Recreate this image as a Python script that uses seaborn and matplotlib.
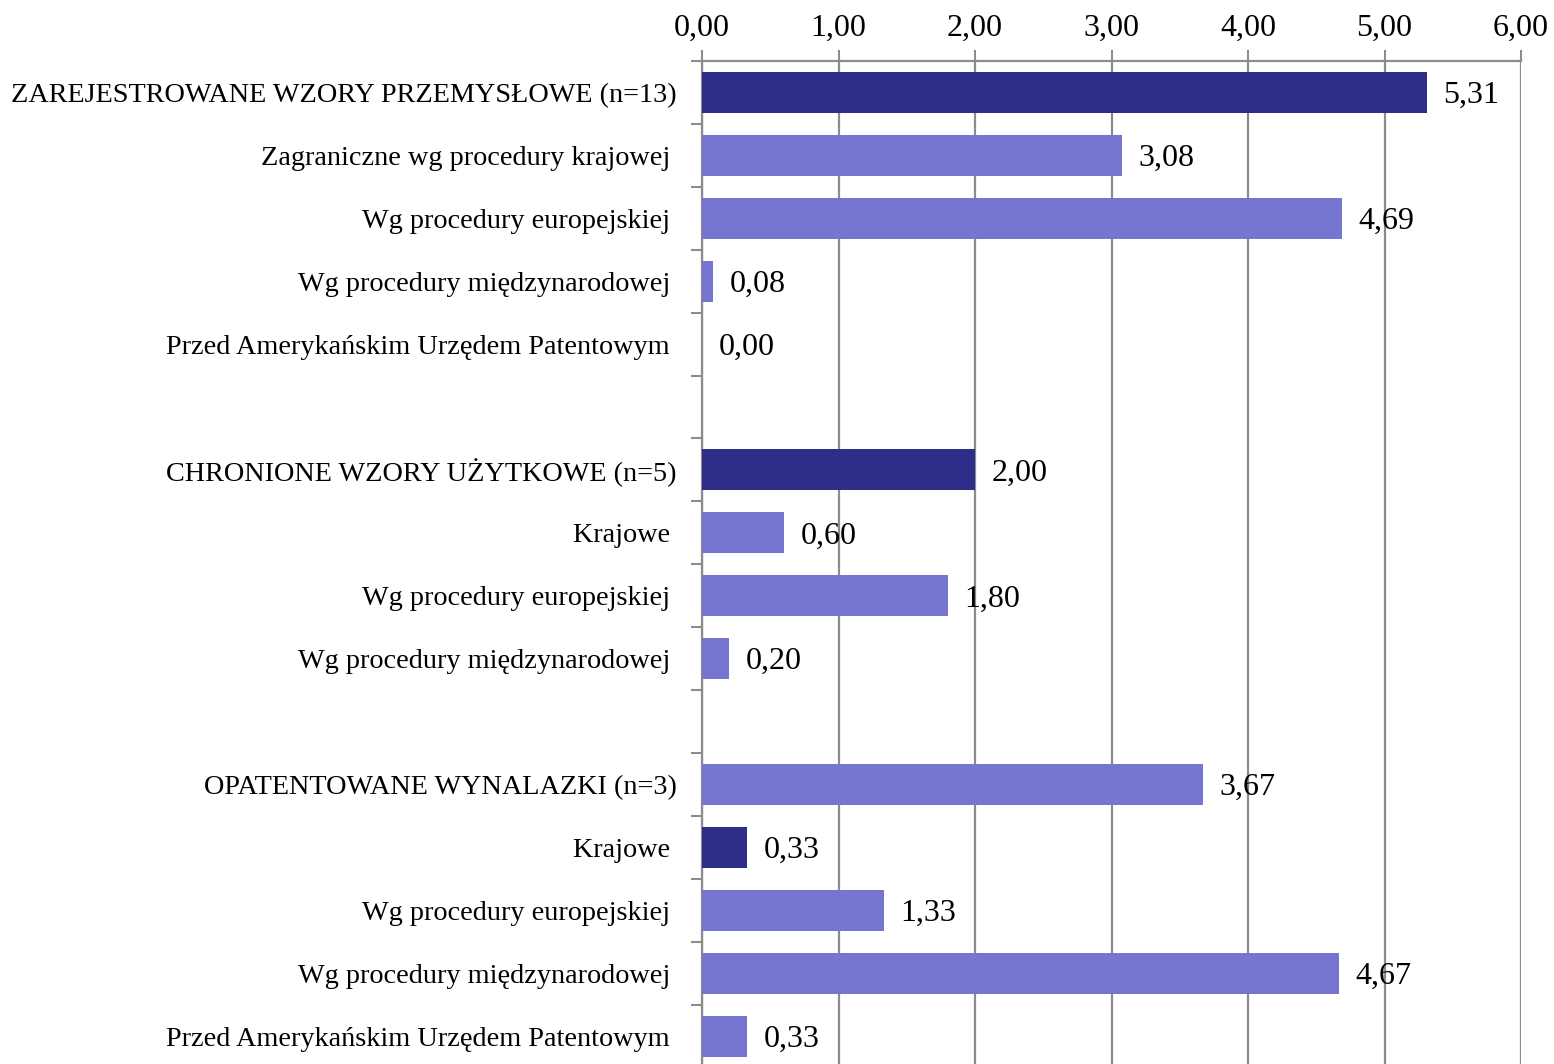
import numpy as np
import pandas as pd
import matplotlib
matplotlib.use("Agg")
import matplotlib.pyplot as plt
import seaborn as sns
from matplotlib.ticker import FixedLocator, FuncFormatter

labels = [
    "ZAREJESTROWANE WZORY PRZEMYSŁOWE (n=13)",
    "Zagraniczne wg procedury krajowej",
    "Wg procedury europejskiej",
    "Wg procedury międzynarodowej",
    "Przed Amerykańskim Urzędem Patentowym",
    "",
    "CHRONIONE WZORY UŻYTKOWE (n=5)",
    "Krajowe",
    "Wg procedury europejskiej",
    "Wg procedury międzynarodowej",
    "",
    "OPATENTOWANE WYNALAZKI (n=3)",
    "Krajowe",
    "Wg procedury europejskiej",
    "Wg procedury międzynarodowej",
    "Przed Amerykańskim Urzędem Patentowym",
]
values = [5.31, 3.08, 4.69, 0.08, 0.00, None,
          2.00, 0.60, 1.80, 0.20, None,
          3.67, 0.33, 1.33, 4.67, 0.33]
shade = ["dark", "light", "light", "light", "light", None,
         "dark", "light", "light", "light", None,
         "light", "dark", "light", "light", "light"]
is_main = [True, False, False, False, False, False,
           True, False, False, False, False,
           True, False, False, False, False]

ids = [f"r{i}" for i in range(len(labels))]
df = pd.DataFrame({"id": ids, "value": values, "shade": shade}).dropna()

sns.set_theme(style="white")
plt.rcParams["font.family"] = ["Liberation Serif", "DejaVu Serif"]
plt.rcParams["text.color"] = "black"
plt.rcParams["xtick.color"] = "black"
plt.rcParams["ytick.color"] = "black"

fig = plt.figure(figsize=(15.54, 10.64), dpi=100)
ax = fig.add_axes([702/1554, -0.0034, (1521-702)/1554, 1 - 61/1064 + 0.0034])

palette = {"dark": "#2E2E8A", "light": "#7676D2"}
sns.barplot(data=df, x="value", y="id", hue="shade", order=ids, palette=palette,
            dodge=False, legend=False, width=0.65, orient="h", ax=ax,
            saturation=1, edgecolor="none")

gray = "#8C8C8C"
ax.set_xlim(0, 6)
ax.set_ylim(len(labels) - 0.5, -0.5)
ax.xaxis.tick_top()
ax.xaxis.set_label_position("top")
ax.set_xticks(np.arange(0, 7, 1))
ax.xaxis.set_major_formatter(FuncFormatter(lambda v, p: f"{v:.2f}".replace(".", ",")))
ax.tick_params(axis="x", which="major", direction="out", length=8, width=1.5,
               color=gray, labelcolor="black", labelsize=23, pad=5)
ax.grid(axis="x", color=gray, linewidth=1.6)
ax.set_axisbelow(False)
for b in ax.patches:
    b.set_zorder(3)

ax.set_yticks(range(len(labels)))
ax.set_yticklabels([l if m else (l + " ") if l else "" for l, m in zip(labels, is_main)])
ax.yaxis.set_minor_locator(FixedLocator(np.arange(-0.5, len(labels), 1)))
ax.tick_params(axis="y", which="major", length=0, labelsize=20.3, pad=18,
               labelcolor="black")
ax.tick_params(axis="y", which="minor", direction="out", length=8, width=1.5,
               color=gray, left=True)
ax.set_xlabel("")
ax.set_ylabel("")

for s in ["right", "bottom"]:
    ax.spines[s].set_visible(False)
for s in ["top", "left"]:
    ax.spines[s].set_color(gray)
    ax.spines[s].set_linewidth(1.6)

for i, (v, l) in enumerate(zip(values, labels)):
    if v is None:
        continue
    ax.text(v + 0.12, i + 0.05, f"{v:.2f}".replace(".", ","), va="center", ha="left",
            fontsize=23, color="black", zorder=5)

fig.savefig("out.png", dpi=100)
